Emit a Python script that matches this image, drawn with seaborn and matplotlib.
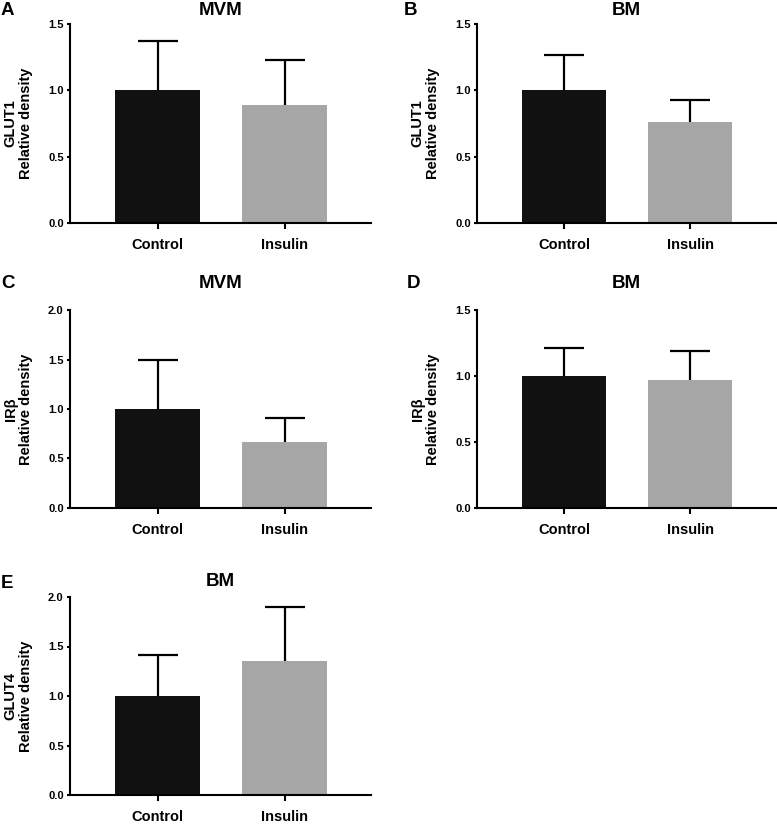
import pandas as pd
import seaborn as sns
import matplotlib.pyplot as plt

groups = ['Control', 'Insulin']

# mean and upper SD per panel
mean_A = [1.0, 0.89]
sd_A = [0.37, 0.34]
mean_B = [1.0, 0.76]
sd_B = [0.27, 0.17]
mean_C = [1.0, 0.67]
sd_C = [0.50, 0.24]
mean_D = [1.0, 0.97]
sd_D = [0.21, 0.22]
mean_E = [1.0, 1.35]
sd_E = [0.41, 0.55]

letters = ['A', 'B', 'C', 'D', 'E']
titles = ['MVM', 'BM', 'MVM', 'BM', 'BM']
proteins = ['GLUT1', 'GLUT1', 'IR\u03b2', 'IR\u03b2', 'GLUT4']
ytops = [1.5, 1.5, 2.0, 1.5, 2.0]

means = [mean_A, mean_B, mean_C, mean_D, mean_E]
sds = [sd_A, sd_B, sd_C, sd_D, sd_E]

sns.set_style('ticks')
plt.rcParams['font.family'] = ['Liberation Sans', 'DejaVu Sans']
plt.rcParams['font.weight'] = 'bold'
for k in ['text.color', 'axes.labelcolor', 'xtick.color', 'ytick.color']:
    plt.rcParams[k] = 'black'

W, H = 777, 824
fig = plt.figure(figsize=(W / 100, H / 100), dpi=100)

# axes boxes in pixels: left, top, right, bottom
boxes = [(70, 24, 371, 223), (477, 24, 776, 223),
         (70, 310, 371, 508), (477, 310, 776, 508),
         (70, 597, 371, 795)]
# letter baselines in pixels
letter_pos = [(1, 15), (404, 15), (1, 288), (407, 288), (1, 588)]
# gap between axes top and title baseline
title_gap = [9, 9, 22, 22, 11]

colors = {'Control': '#111111', 'Insulin': '#a6a6a6'}

for i in range(5):
    l, t, r, b = boxes[i]
    ax = fig.add_axes([l / W, 1 - b / H, (r - l) / W, (b - t) / H])
    df = pd.DataFrame({'group': groups, 'value': means[i]})
    sns.barplot(data=df, x='group', y='value', hue='group', palette=colors,
                width=0.667, errorbar=None, legend=False, linewidth=0, ax=ax)
    eb = ax.errorbar(x=[0, 1], y=means[i], yerr=[[0, 0], sds[i]], fmt='none',
                     ecolor='black', elinewidth=1.6, capsize=14.5, capthick=1.6,
                     zorder=3)
    # only the upper cap is shown
    eb[1][0].set_visible(False)
    ax.set_xlim(-0.69, 1.68)
    ax.set_ylim(0, ytops[i])
    step = 0.5
    ticks = [k * step for k in range(int(round(ytops[i] / step)) + 1)]
    ax.set_yticks(ticks)
    ax.set_yticklabels(['%.1f' % v for v in ticks], fontsize=8, fontweight='bold')
    ax.set_xticks([0, 1])
    ax.set_xticklabels(groups, fontsize=10.5, fontweight='bold')
    ax.set_xlabel(None)
    ax.set_ylabel(proteins[i] + '\nRelative density', fontsize=10.5,
                  fontweight='bold', labelpad=11, linespacing=1.1)
    sns.despine(ax=ax)
    for s in ['left', 'bottom']:
        ax.spines[s].set_linewidth(1.5)
        ax.spines[s].set_color('black')
    ax.tick_params(axis='y', length=2.5, width=1.5, pad=2, color='black')
    ax.tick_params(axis='x', length=4.5, width=1.5, pad=6, color='black')
    ax.text(0.5, 1 + title_gap[i] / (b - t), titles[i], transform=ax.transAxes,
            ha='center', va='baseline', fontsize=13.5, fontweight='bold')
    lx, ly = letter_pos[i]
    fig.text(lx / W, 1 - ly / H, letters[i], ha='left', va='baseline',
             fontsize=13.5, fontweight='bold')

fig.savefig('out.png', dpi=100)
